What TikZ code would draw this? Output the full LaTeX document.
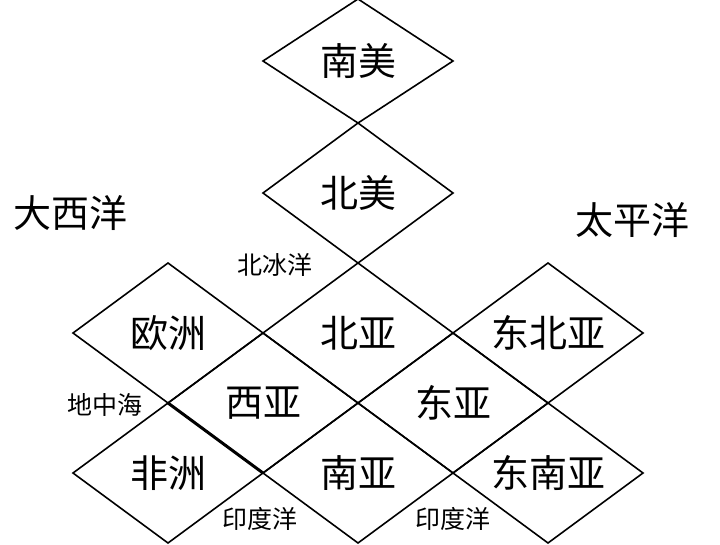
\documentclass[tikz,border=0pt]{standalone}
\usepackage{fontspec}
\newfontfamily\cjk{Noto Sans CJK SC}
\usetikzlibrary{positioning,shapes.geometric}
\tikzset{
  region/.style={draw, diamond, aspect=1.36, line width=1.6pt, outer sep=0pt,
                 inner sep=0pt, minimum width=190pt, minimum height=140pt,
                 font=\cjk\fontsize{38}{40}\selectfont},
  ocean/.style={font=\cjk\fontsize{38}{40}\selectfont, inner sep=0pt},
  sea/.style={font=\cjk\fontsize{25}{27}\selectfont, inner sep=0pt},
  seam/.style={line width=3pt},
}

\begin{document}
\begin{tikzpicture}[x=1pt, y=-1pt]
  \useasboundingbox (0,0) rectangle (720,544);
  % middle of the grid first, the rest hangs off its corners
  \node[region] (beiya) at (358,333) {北亚};
  \node[region, anchor=south] (beimei) at (beiya.north) {北美};
  \node[region, anchor=south, minimum height=124pt] (nanmei) at (beimei.north) {南美};
  \node[region, anchor=north] (xiya) at (beiya.west) {西亚};
  \node[region, anchor=north] (dongya) at (beiya.east) {东亚};
  \node[region, anchor=east] (ouzhou) at (xiya.north) {欧洲};
  \node[region, anchor=west] (dongbeiya) at (dongya.north) {东北亚};
  \node[region, anchor=east] (feizhou) at (xiya.south) {非洲};
  \node[region, anchor=north] (nanya) at (xiya.east) {南亚};
  \node[region, anchor=north] (dongnanya) at (dongya.east) {东南亚};
  \draw[seam] (xiya.west) -- (xiya.south);
  % oceans and seas
  \node[ocean] (daxiyang) at (70,213) {大西洋};
  \node[ocean] (taipingyang) at (632,220) {太平洋};
  \node[sea] (beibingyang) at (275,265) {北冰洋};
  \node[sea] (dizhonghai) at (105,405) {地中海};
  \node[sea] (yinduyang1) at (260,519) {印度洋};
  \node[sea] (yinduyang2) at (453,519) {印度洋};
\end{tikzpicture}
\end{document}
